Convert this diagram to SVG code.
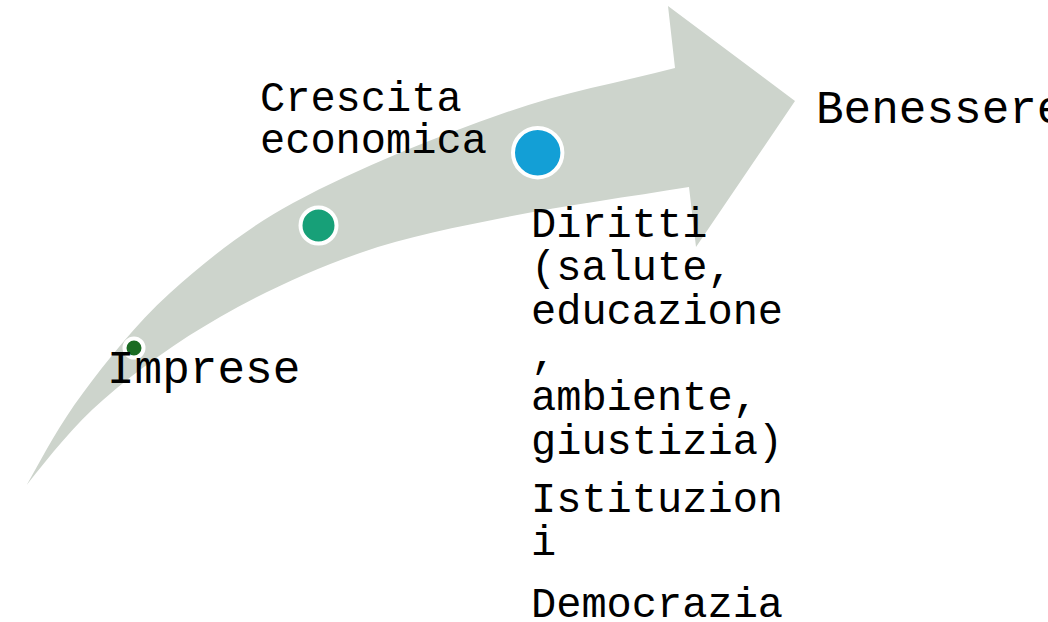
<svg xmlns="http://www.w3.org/2000/svg" width="1048" height="622" viewBox="0 0 1048 622">
<style>
.t{font-family:"Liberation Mono","Courier New",monospace;font-size:42px;fill:#000}
.big{font-size:46px}
.dot{stroke:#fff;stroke-width:4}
</style>
<rect width="1048" height="622" fill="#fff"/>
<g id="arrow">
<path fill="#CDD4CC" d="M26.7,485 C44.7,453 59.1,425 83,393 C106.9,361 135,324.7 170,293 C205,261.3 248.2,227.1 293,203 C361.5,166.2 433.4,138 507,112 C561.7,92.7 618.9,82.6 675,68 L668,6 L795,101 L696,247 L689,187 C628.8,196.9 566.8,205 507,217 C458,226.8 407.2,236.5 360,253 C311.8,269.8 264.3,291.7 220,317 C178.3,340.9 139.2,368.5 103,400 C74.3,424.9 50.3,455.3 26.7,485 Z"/>
</g>
<g id="connectors"></g>
<g id="node-imprese">
<circle class="dot" cx="134" cy="348" r="9.5" fill="#1B6B23"/>
<text class="t big" x="107" y="383">Imprese</text>
</g>
<g id="node-crescita">
<circle class="dot" cx="318.5" cy="225.5" r="18" fill="#17A078"/>
<text class="t" x="260" y="111">Crescita</text>
<text class="t" x="260" y="153">economica</text>
</g>
<g id="node-diritti">
<circle class="dot" cx="537.7" cy="152.7" r="24.7" fill="#139FD6"/>
<text class="t" x="531" y="237">Diritti</text>
<text class="t" x="531" y="280">(salute,</text>
<text class="t" x="531" y="323.5">educazione</text>
<text class="t" x="531" y="366.5">,</text>
<text class="t" x="531" y="410">ambiente,</text>
<text class="t" x="531" y="453.5">giustizia)</text>
<text class="t" x="531" y="512">Istituzion</text>
<text class="t" x="531" y="555">i</text>
<text class="t" x="531" y="617">Democrazia</text>
</g>
<g id="node-benessere">
<text class="t big" x="816" y="123">Benessere</text>
</g>
</svg>
